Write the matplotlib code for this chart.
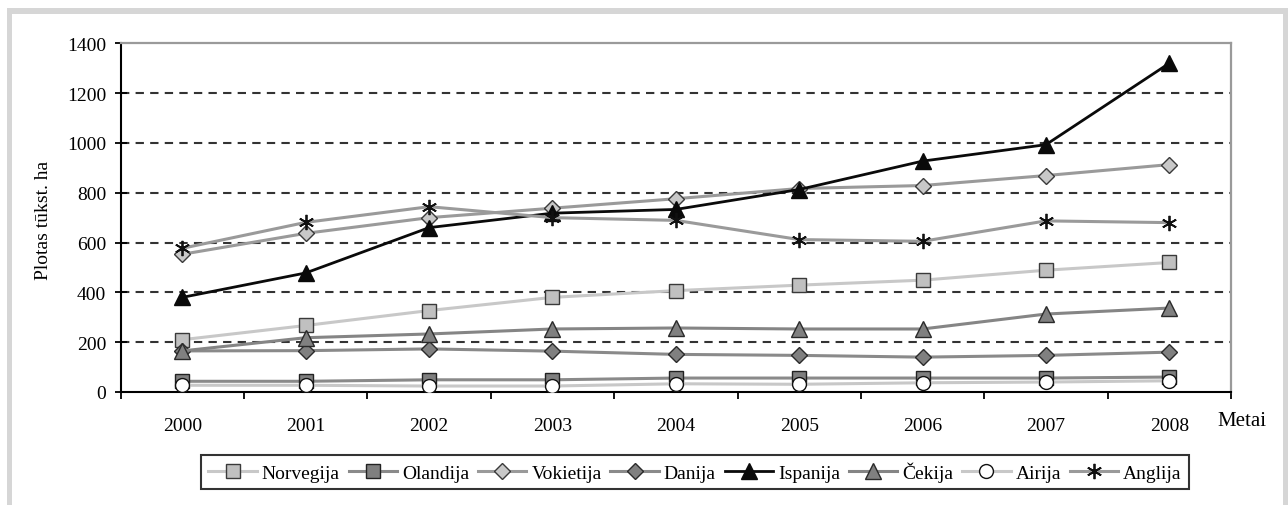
import matplotlib
matplotlib.use("Agg")
import matplotlib.pyplot as plt
from matplotlib.patches import Rectangle

plt.rcParams['font.family'] = ['Liberation Serif', 'DejaVu Serif']

years = ['2000', '2001', '2002', '2003', '2004', '2005', '2006', '2007', '2008']
norvegija = [210, 267, 327, 380, 407, 429, 449, 489, 520]
olandija = [43, 43, 49, 49, 56, 56, 56, 56, 60]
vokietija = [553, 637, 700, 738, 776, 817, 829, 869, 913]
danija = [165, 166, 173, 164, 151, 147, 140, 147, 160]
ispanija = [380, 478, 660, 718, 733, 813, 927, 993, 1320]
cekija = [165, 218, 233, 253, 257, 253, 253, 313, 337]
airija = [27, 27, 24, 24, 33, 31, 37, 40, 45]
anglija = [577, 681, 744, 700, 689, 612, 605, 687, 680]
series_names = ['Norvegija', 'Olandija', 'Vokietija', 'Danija', 'Ispanija', 'Čekija', 'Airija', 'Anglija']
yticks = [0, 200, 400, 600, 800, 1000, 1200, 1400]
ylabel = 'Plotas tūkst. ha'
xlabel = 'Metai'

W, H = 1288, 506
fig = plt.figure(figsize=(W / 100, H / 100), dpi=100)
fig.patch.set_facecolor('white')

# figure frame (light gray bands)
band = '#d6d6d6'
fig.add_artist(Rectangle((7 / W, 0), 5 / W, 1 - 9 / H, transform=fig.transFigure, color=band, lw=0))
fig.add_artist(Rectangle((7 / W, 1 - 15 / H), (1288 - 7) / W, 6 / H, transform=fig.transFigure, color=band, lw=0))
fig.add_artist(Rectangle((1283 / W, 0), 5 / W, 1 - 9 / H, transform=fig.transFigure, color=band, lw=0))

left, right, top, bottom = 120.7, 1231, 44.3, 393
ax = fig.add_axes([left / W, 1 - bottom / H, (right - left) / W, (bottom - top) / H])
x = list(range(len(years)))

styles = [
    (norvegija, dict(color='#c8c8c8', marker='s', mfc='#c0c0c0', mec='#3a3a3a', ms=10, lw=2.2)),
    (olandija, dict(color='#8a8a8a', marker='s', mfc='#7f7f7f', mec='#222222', ms=10, lw=2.2)),
    (vokietija, dict(color='#9a9a9a', marker='D', mfc='#c8c8c8', mec='#3a3a3a', ms=8.5, lw=2.2)),
    (danija, dict(color='#8a8a8a', marker='D', mfc='#808080', mec='#2a2a2a', ms=8.5, lw=2.2)),
    (ispanija, dict(color='#0a0a0a', marker='^', mfc='#0a0a0a', mec='#0a0a0a', ms=11, lw=2.0)),
    (cekija, dict(color='#858585', marker='^', mfc='#808080', mec='#2a2a2a', ms=11, lw=2.2)),
    (airija, dict(color='#c8c8c8', marker='o', mfc='white', mec='#111111', ms=10, lw=2.2)),
    (anglija, dict(color='#9a9a9a', marker=(6, 2, 0), mfc='black', mec='#111111', ms=11, mew=1.3, lw=2.2)),
]
for name, (vals, st) in zip(series_names, styles):
    ax.plot(x, vals, label=name, zorder=3, **st)

# gridlines
for v in yticks[1:-1]:
    ax.axhline(v, color='#333333', lw=1.5, ls=(0, (4, 3)), zorder=1)

ax.set_xlim(-0.5, len(years) - 0.5)
ax.set_ylim(0, 1400)
ax.set_yticks(yticks)
ax.set_yticklabels([str(v) for v in yticks], fontsize=14)
ax.set_xticks(x)
ax.set_xticklabels(years, fontsize=14)
ax.set_xticks([i - 0.5 for i in range(len(years) + 1)], minor=True)
ax.tick_params(axis='x', which='major', length=0, pad=18)
ax.tick_params(axis='x', which='minor', length=5, width=1.3, direction='out', color='black')
ax.tick_params(axis='y', which='major', length=9, width=1.3, direction='inout', pad=6, color='black')

for s in ['left', 'bottom']:
    ax.spines[s].set_color('black')
    ax.spines[s].set_linewidth(1.5)
for s in ['top', 'right']:
    ax.spines[s].set_color('#9a9a9a')
    ax.spines[s].set_linewidth(1.6)

fig.text(44 / W, 1 - 220 / H, ylabel, rotation=90, ha='center', va='center', fontsize=14)
fig.text(1242 / W, 1 - 422 / H, xlabel, ha='center', va='center', fontsize=15)

leg = fig.legend(loc='center', bbox_to_anchor=(695 / W, 1 - 473 / H), ncol=8, fontsize=14,
                 frameon=True, fancybox=False, edgecolor='black', handlelength=2.5,
                 handletextpad=0.25, columnspacing=0.45, borderpad=0.35, borderaxespad=0)
leg.get_frame().set_linewidth(1.5)

fig.savefig('out.png', dpi=100)
